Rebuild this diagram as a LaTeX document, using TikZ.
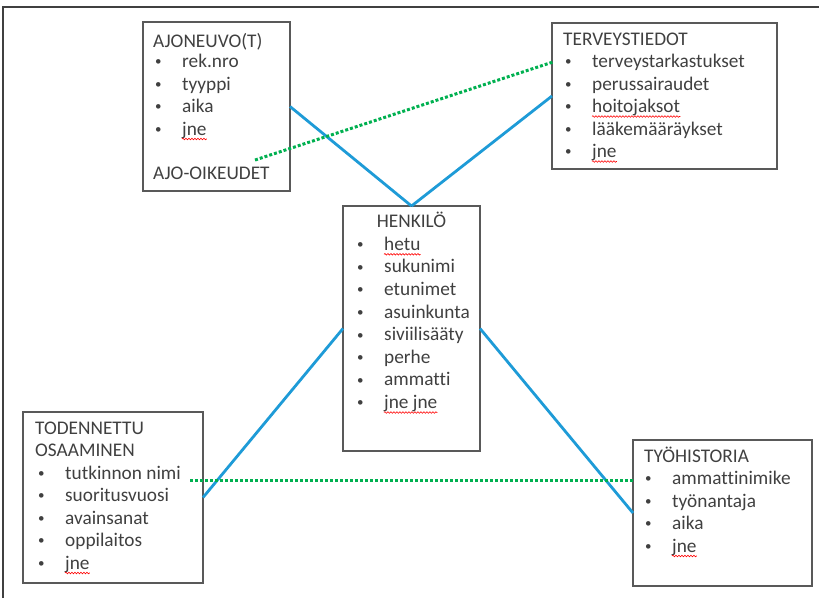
\documentclass[tikz,border=0pt]{standalone}
\usepackage{fontspec}
\setmainfont{Carlito}[Ligatures=NoCommon]
\usepackage{tikz}
\usetikzlibrary{decorations.pathmorphing}
\definecolor{txtgray}{RGB}{64,64,64}
\definecolor{boxgray}{RGB}{89,89,89}
\definecolor{lineblue}{RGB}{30,155,215}
\definecolor{dotgreen}{RGB}{0,176,80}
\newcommand{\bul}{\makebox[27pt][l]{\raisebox{1.6pt}{\fontsize{13}{13}\selectfont•}}}

\begin{document}
\begin{tikzpicture}[x=1pt,y=-1pt,
        box/.style={draw=boxgray, line width=1.3pt, rectangle, inner sep=0pt, outer sep=0pt},
        txt/.style={anchor=base west, inner sep=0pt, text=txtgray, font=\fontsize{19.3}{22.5}\selectfont},
        link/.style={draw=lineblue, line width=2.8pt},
        dots/.style={draw=dotgreen, line width=3pt, dash pattern=on 3pt off 2pt},
        spell/.style={draw=red, line width=0.6pt, decorate, decoration={snake, amplitude=0.8pt, segment length=3pt}}]
        \useasboundingbox (0,0) rectangle (819,598);
        \draw[txtgray, line width=2pt] (3,598) -- (3,7) -- (819,7);

        % boxes
        \draw (216.5,106.5) node(ajo)[box, minimum width=147pt, minimum height=169pt]{};
        \draw (664.5,96) node(terv)[box, minimum width=225pt, minimum height=146pt]{};
        \draw (411.5,328.5) node(henk)[box, minimum width=137pt, minimum height=245pt]{};
        \draw (113,497.5) node(tod)[box, minimum width=180pt, minimum height=171pt]{};
        \draw (722.5,513) node(tyo)[box, minimum width=179pt, minimum height=146pt]{};

        % ajoneuvo
        \draw (153,47) node(ajo0)[txt]{AJONEUVO(T)};
        \draw (155,67.5) node(ajo1)[txt]{\bul rek.nro};
        \draw (155,90) node(ajo2)[txt]{\bul tyyppi};
        \draw (155,112.5) node(ajo3)[txt]{\bul aika};
        \draw (155,135) node(ajo4)[txt]{\bul jne};
        \draw (153,179) node(ajo5)[txt]{AJO-OIKEUDET};

        % terveystiedot
        \draw (563,45) node(terv0)[txt]{TERVEYSTIEDOT};
        \draw (565,67.5) node(terv1)[txt]{\bul terveystarkastukset};
        \draw (565,90) node(terv2)[txt]{\bul perussairaudet};
        \draw (565,112.5) node(terv3)[txt]{\bul hoitojaksot};
        \draw (565,135) node(terv4)[txt]{\bul lääkemääräykset};
        \draw (565,157.5) node(terv5)[txt]{\bul jne};

        % henkilo
        \draw (411.5,227.7) node(henk0)[txt, anchor=base]{HENKILÖ};
        \draw (357,250.3) node(henk1)[txt]{\bul hetu};
        \draw (357,272.9) node(henk2)[txt]{\bul sukunimi};
        \draw (357,295.5) node(henk3)[txt]{\bul etunimet};
        \draw (357,318.1) node(henk4)[txt]{\bul asuinkunta};
        \draw (357,340.7) node(henk5)[txt]{\bul siviilisääty};
        \draw (357,363.3) node(henk6)[txt]{\bul perhe};
        \draw (357,385.9) node(henk7)[txt]{\bul ammatti};
        \draw (357,408.5) node(henk8)[txt]{\bul jne jne};

        % todennettu osaaminen
        \draw (35,434) node(tod0)[txt]{TODENNETTU};
        \draw (35,456.5) node(tod1)[txt]{OSAAMINEN};
        \draw (38,479) node(tod2)[txt]{\bul tutkinnon nimi};
        \draw (38,501.5) node(tod3)[txt]{\bul suoritusvuosi};
        \draw (38,524) node(tod4)[txt]{\bul avainsanat};
        \draw (38,546.5) node(tod5)[txt]{\bul oppilaitos};
        \draw (38,569) node(tod6)[txt]{\bul jne};

        % tyohistoria
        \draw (644,462) node(tyo0)[txt]{TYÖHISTORIA};
        \draw (645,484.5) node(tyo1)[txt]{\bul ammattinimike};
        \draw (645,507) node(tyo2)[txt]{\bul työnantaja};
        \draw (645,529.5) node(tyo3)[txt]{\bul aika};
        \draw (645,552) node(tyo4)[txt]{\bul jne};

        % spelling marks
        \draw[spell] ([xshift=27pt,yshift=-4pt]ajo4.base west) -- ([yshift=-4pt]ajo4.base east);
        \draw[spell] ([xshift=27pt,yshift=-4pt]terv3.base west) -- ([yshift=-4pt]terv3.base east);
        \draw[spell] ([xshift=27pt,yshift=-4pt]terv5.base west) -- ([yshift=-4pt]terv5.base east);
        \draw[spell] ([xshift=27pt,yshift=-4pt]henk1.base west) -- ([yshift=-4pt]henk1.base east);
        \draw[spell] ([xshift=27pt,yshift=-4pt]henk8.base west) -- ([yshift=-4pt]henk8.base east);
        \draw[spell] ([xshift=27pt,yshift=-4pt]tod6.base west) -- ([yshift=-4pt]tod6.base east);
        \draw[spell] ([xshift=27pt,yshift=-4pt]tyo4.base west) -- ([yshift=-4pt]tyo4.base east);

        % links
        \draw[link] (ajo.east) -- (henk.north);
        \draw[link] (terv.west) -- (henk.north);
        \draw[link] (henk.west) -- (tod.east);
        \draw[link] (henk.east) -- (tyo.west);

        \coordinate (g1) at (255,160);
        \coordinate (g2) at (553,62);
        \coordinate (g3) at (190,480);
        \draw[dots] (g1) -- (g2);
        \draw[dots] (g3) -- (g3 -| tyo.west);
    \end{tikzpicture}
\end{document}
